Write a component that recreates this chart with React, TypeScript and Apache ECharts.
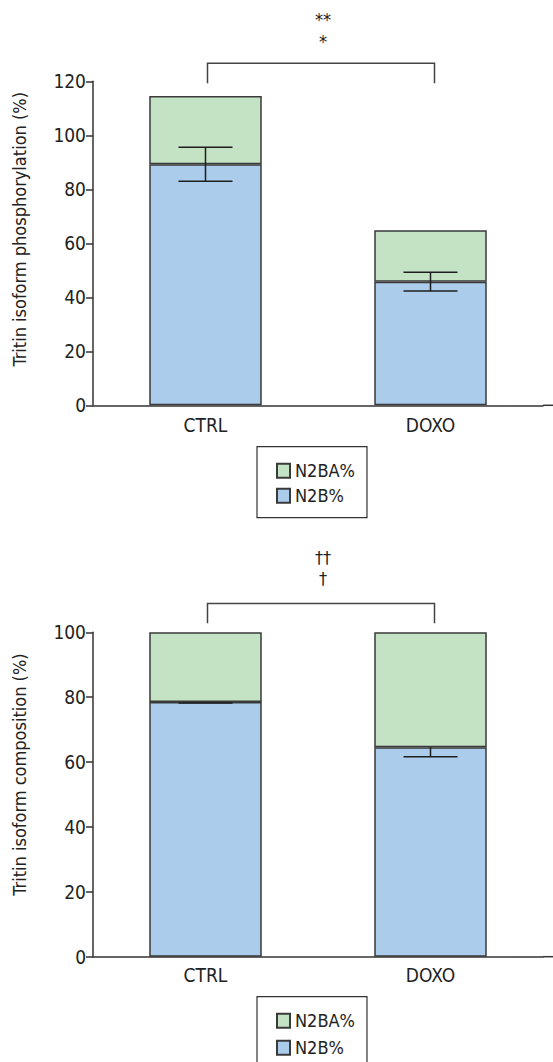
import React, { useEffect, useRef } from "react";
import * as echarts from "echarts";

// Categories and values (percent)
const categories = ["CTRL", "DOXO"];

// Titin isoform phosphorylation
const phosN2B = [89.3, 45.8];
const phosN2BA = [25.3, 19.0];
const phosErr = [6.3, 3.5];

// Titin isoform composition
const compN2B = [78.5, 64.6];
const compN2BA = [21.5, 35.4];
const compErr = [0.3, 3.0];

// Significance bracket levels [top, foot] and markers
const phosBracket = [126.7, 119.3];
const compBracket = [108.9, 102.8];
const phosMarks = ["**", "*"];
const compMarks = ["††", "†"];

const yTicksPhos = { max: 120, interval: 20 };
const yTicksComp = { max: 100, interval: 20 };

const FONT = "'Liberation Sans Narrow', 'DejaVu Sans Condensed', 'Roboto Condensed', Roboto, sans-serif";
const TEXT = "#222";
const AXIS = "#333";
const BLUE = "#abcceb";
const GREEN = "#c4e2c4";
const BORDER = "#3a3a3a";

const errorRender = (lowerOnly: boolean) => (params: any, api: any) => {
  const x = api.value(0);
  const m = api.value(1);
  const e = api.value(2);
  const c = api.coord([x, m]);
  const hi = api.coord([x, lowerOnly ? m : m + e]);
  const lo = api.coord([x, m - e]);
  const hw = 27;
  const style = { stroke: "#1e1e1e", lineWidth: 1.5 };
  const children: any[] = [
    { type: "line", shape: { x1: c[0], y1: hi[1], x2: c[0], y2: lo[1] }, style },
    { type: "line", shape: { x1: c[0] - hw, y1: lo[1], x2: c[0] + hw, y2: lo[1] }, style },
  ];
  if (!lowerOnly) {
    children.push({ type: "line", shape: { x1: c[0] - hw, y1: hi[1], x2: c[0] + hw, y2: hi[1] }, style });
  }
  return { type: "group", children };
};

const bracketRender = (marks: string[], gaps: number[]) => (params: any, api: any) => {
  const top = api.value(2);
  const foot = api.value(3);
  const a = api.coord([api.value(0), top]);
  const b = api.coord([api.value(1), top]);
  const f = api.coord([api.value(0), foot])[1];
  const mid = (a[0] + b[0]) / 2 + 5;
  return {
    type: "group",
    children: [
      {
        type: "polyline",
        shape: { points: [[a[0] + 2, f], [a[0] + 2, a[1]], [b[0] + 4, a[1]], [b[0] + 4, f]] },
        style: { stroke: "#444", lineWidth: 1.5, fill: "none" },
      },
      ...marks.map((t, i) => ({
        type: "text",
        x: mid,
        y: a[1] - gaps[i],
        style: { text: t, fontSize: 18, fontFamily: FONT, fill: TEXT, align: "center", verticalAlign: "middle" },
      })),
    ],
  };
};

const legendBase = (top: number, gap: number) => ({
  orient: "vertical",
  left: 257,
  top,
  data: ["N2BA%", "N2B%"],
  itemWidth: 13,
  itemHeight: 14,
  itemGap: gap,
  padding: [15, 12, 13, 19],
  borderColor: AXIS,
  borderWidth: 1.2,
  icon: "rect",
  selectedMode: false,
  textStyle: { color: TEXT, fontSize: 18, fontFamily: FONT },
});

export default function App() {
  const ref = useRef<HTMLDivElement>(null);

  useEffect(() => {
    if (!ref.current) return;
    const chart = echarts.init(ref.current, undefined, { renderer: "svg" });

    const xAxisBase = (gridIndex: number, margin: number) => ({
      type: "category",
      gridIndex,
      data: categories,
      axisLine: { lineStyle: { color: AXIS, width: 1.5 } },
      axisTick: { show: false },
      axisLabel: { color: TEXT, fontSize: 19, fontFamily: FONT, margin },
    });
    const yAxisBase = (gridIndex: number, name: string, ticks: any, shift: number) => ({
      type: "value",
      gridIndex,
      min: 0,
      max: ticks.max,
      interval: ticks.interval,
      name,
      nameLocation: "middle",
      nameGap: 65,
      nameTextStyle: { color: TEXT, fontSize: 18, fontFamily: FONT, padding: [0, 0, 0, shift] },
      axisLine: { show: true, lineStyle: { color: AXIS, width: 1.5 } },
      axisTick: { show: true, length: 7, lineStyle: { color: AXIS, width: 1.5 } },
      axisLabel: { color: TEXT, fontSize: 19, fontFamily: FONT, margin: 7 },
      splitLine: { show: false },
    });

    const barStyle = (color: string) => ({ color, borderColor: BORDER, borderWidth: 1.5 });

    chart.setOption({
      animation: false,
      backgroundColor: "#fff",
      grid: [
        { left: 93, top: 81.3, width: 450, height: 324 },
        { left: 93, top: 632.3, width: 450, height: 324.4 },
      ],
      xAxis: [xAxisBase(0, 10), xAxisBase(1, 9)],
      yAxis: [
        yAxisBase(0, "Tritin isoform phosphorylation (%)", yTicksPhos, 28),
        yAxisBase(1, "Tritin isoform composition (%)", yTicksComp, 40),
      ],
      legend: [legendBase(446.7, 7), legendBase(996.7, 9)],
      graphic: [
        { type: "line", shape: { x1: 543, y1: 405.3, x2: 553, y2: 405.3 }, style: { stroke: AXIS, lineWidth: 1.5 } },
        { type: "line", shape: { x1: 543, y1: 956.7, x2: 553, y2: 956.7 }, style: { stroke: AXIS, lineWidth: 1.5 } },
      ],
      series: [
        {
          name: "N2B%", type: "bar", stack: "p", xAxisIndex: 0, yAxisIndex: 0,
          barWidth: "50%", data: phosN2B, itemStyle: barStyle(BLUE),
        },
        {
          name: "N2BA%", type: "bar", stack: "p", xAxisIndex: 0, yAxisIndex: 0,
          barWidth: "50%", data: phosN2BA, itemStyle: barStyle(GREEN),
        },
        {
          name: "N2B%", type: "bar", stack: "c", xAxisIndex: 1, yAxisIndex: 1,
          barWidth: "50%", data: compN2B, itemStyle: barStyle(BLUE),
        },
        {
          name: "N2BA%", type: "bar", stack: "c", xAxisIndex: 1, yAxisIndex: 1,
          barWidth: "50%", data: compN2BA, itemStyle: barStyle(GREEN),
        },
        {
          type: "custom", xAxisIndex: 0, yAxisIndex: 0, clip: false, z: 10,
          renderItem: errorRender(false),
          encode: { x: 0, y: 1 },
          data: phosN2B.map((v, i) => [i, v, phosErr[i]]),
        },
        {
          type: "custom", xAxisIndex: 1, yAxisIndex: 1, clip: false, z: 10,
          renderItem: errorRender(true),
          encode: { x: 0, y: 1 },
          data: compN2B.map((v, i) => [i, v, compErr[i]]),
        },
        {
          type: "custom", xAxisIndex: 0, yAxisIndex: 0, clip: false, z: 10,
          renderItem: bracketRender(phosMarks, [43.3, 21.6]),
          encode: { x: 0, y: 2 },
          data: [[0, 1, phosBracket[0], phosBracket[1]]],
        },
        {
          type: "custom", xAxisIndex: 1, yAxisIndex: 1, clip: false, z: 10,
          renderItem: bracketRender(compMarks, [46, 25]),
          encode: { x: 0, y: 2 },
          data: [[0, 1, compBracket[0], compBracket[1]]],
        },
      ],
    });

    return () => chart.dispose();
  }, []);

  // The chart canvas is taller than the page so the lower legend keeps its
  // vertical layout; the outer frame clips it to the page size.
  return (
    <div style={{ position: "absolute", left: 0, top: 0, width: 553, height: 1062, overflow: "hidden" }}>
      <div ref={ref} style={{ width: 553, height: 1110 }} />
    </div>
  );
}
